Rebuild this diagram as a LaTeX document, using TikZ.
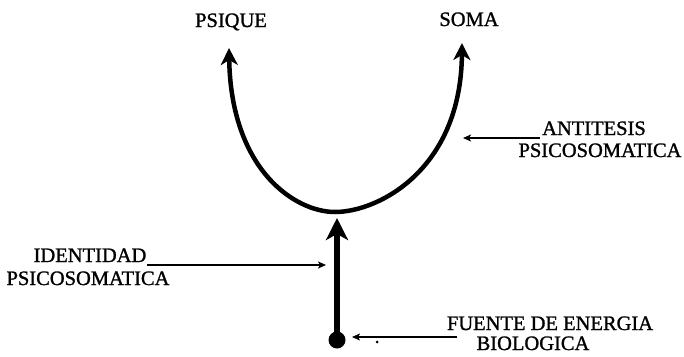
\documentclass[tikz,border=0pt]{standalone}
\usepackage{fontspec}
\setmainfont{Liberation Serif}[BoldFont=Liberation Serif,BoldFeatures={FakeBold=1.2}]
\usetikzlibrary{arrows.meta}
\begin{document}
\begin{tikzpicture}[x=1pt,y=-1pt,
  lbl/.style={anchor=base,inner sep=0pt,font=\fontsize{20.5}{24}\selectfont\bfseries},
  uarrow/.style={line width=4.5pt,
    {Stealth[length=17pt,width=17pt,inset=5pt]}-{Stealth[length=17pt,width=17pt,inset=5pt]}},
  varrow/.style={line width=5.5pt,-{Stealth[length=22pt,width=22pt,inset=6pt]}},
  pointer/.style={line width=2pt,-{Stealth[length=8pt,width=7pt,inset=2pt]}}]
\useasboundingbox (0,0) rectangle (684,356);
% labels
\node[lbl] (psique) at (231,27) {PSIQUE};
\node[lbl] (soma) at (469,26) {SOMA};
\node[lbl] (anti1) at (594,135) {ANTITESIS};
\node[lbl] (anti2) at (600,157) {PSICOSOMATICA};
\node[lbl] (iden1) at (90,262) {IDENTIDAD};
\node[lbl] (iden2) at (88,285) {PSICOSOMATICA};
\node[lbl] (fuen1) at (550,330) {FUENTE DE ENERGIA};
\node[lbl] (fuen2) at (533,350) {BIOLOGICA};
% coordinates
\coordinate (lt) at (229,48);
\coordinate (ub) at (335,212);
\coordinate (rt) at (462,43);
\coordinate (vtip) at (337,218);
\coordinate (aS) at (540,138);
\coordinate (aE) at (463,138);
\coordinate (iS) at (147,265);
\coordinate (iE) at (326,265);
\coordinate (fS) at (457,337);
\coordinate (fE) at (352,337);
% U curve
\draw[uarrow] (lt) .. controls (231,170) and (295,212) .. (ub)
  .. controls (378,212) and (461,170) .. (rt);
% source dot and vertical arrow
\node[circle,fill,inner sep=0pt,minimum size=17pt] (src) at (337,340) {};
\draw[varrow] (src.center) -- (vtip);
% pointers
\draw[pointer] (aS) -- (aE);
\draw[pointer] (iS) -- (iE);
\draw[pointer] (fS) -- (fE);
% speck
\fill (377,342) circle (1.5pt);
\end{tikzpicture}
\end{document}
